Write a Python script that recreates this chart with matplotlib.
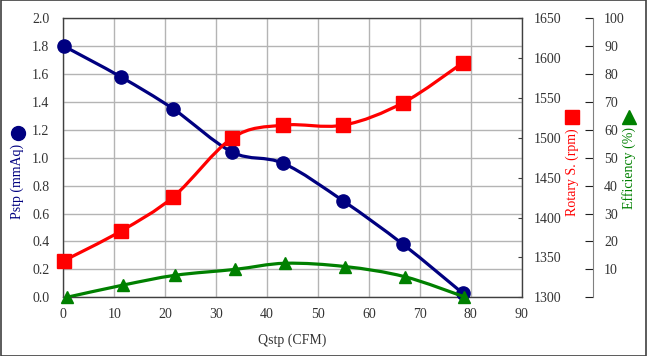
import numpy as np
import matplotlib
matplotlib.use('Agg')
import matplotlib.pyplot as plt
from matplotlib.path import Path
from matplotlib.patches import PathPatch, Rectangle
from matplotlib.lines import Line2D

plt.rcParams['font.family'] = ['Liberation Serif', 'DejaVu Serif']

# values
qstp = [0.15, 11.3, 21.6, 33.2, 43.2, 55.0, 66.7, 78.4]
pstp = [1.80, 1.58, 1.35, 1.04, 0.96, 0.69, 0.38, 0.03]
rpm = [1346, 1383, 1426, 1500, 1516, 1516, 1544, 1594]
qstp_eff = [0.7, 11.8, 22.0, 33.7, 43.6, 55.4, 67.0, 78.7]
eff = [0.0, 4.4, 7.9, 10.0, 12.2, 11.0, 7.4, 0.2]

x_ticks = list(range(0, 91, 10))
p_ticks = [i * 0.2 for i in range(11)]
rpm_ticks = list(range(1300, 1651, 50))
eff_ticks = list(range(0, 101, 10))

NAVY = '#000080'
RED = '#ff0000'
GREEN = '#008000'
FS = 10


def smooth_path(x, y):
    # excel style smoothed line, drawn as cubic bezier segments
    x = np.asarray(x, float)
    y = np.asarray(y, float)
    px = np.concatenate([[x[0]], x, [x[-1]]])
    py = np.concatenate([[y[0]], y, [y[-1]]])
    verts = [(x[0], y[0])]
    codes = [Path.MOVETO]
    for i in range(1, len(px) - 2):
        c1 = (px[i] + (px[i + 1] - px[i - 1]) / 6, py[i] + (py[i + 1] - py[i - 1]) / 6)
        c2 = (px[i + 1] - (px[i + 2] - px[i]) / 6, py[i + 1] - (py[i + 2] - py[i]) / 6)
        verts += [c1, c2, (px[i + 1], py[i + 1])]
        codes += [Path.CURVE4] * 3
    return Path(verts, codes)


def draw_series(ax, x, y, color, marker, ms):
    ax.add_patch(PathPatch(smooth_path(x, y), fill=False, edgecolor=color, lw=2.3, zorder=3))
    ax.plot(x, y, ls='none', marker=marker, ms=ms, color=color, mec=color, zorder=4, clip_on=False)


fig = plt.figure(figsize=(6.47, 3.56), dpi=100)
ax = fig.add_axes([0.0978, 0.1649, 0.7085, 0.7837])
ax2 = ax.twinx()
ax3 = ax.twinx()

label_color = '#333333'
for a in (ax, ax2, ax3):
    a.tick_params(labelsize=FS, colors=label_color)

ax.set_xlim(0, 90)
ax.set_ylim(0, 2.0)
ax.set_xticks(x_ticks)
ax.set_yticks(p_ticks)
ax.set_yticklabels([f'{v:.1f}' for v in p_ticks])
ax.grid(True, color='#b4b4b4', lw=1)
ax.set_axisbelow(True)
ax.tick_params(axis='y', length=0, pad=10)
ax.tick_params(axis='x', length=0, pad=7.5)
for s in ax.spines.values():
    s.set_color('#404040')
    s.set_linewidth(1)
ax.set_xlabel('Qstp (CFM)', fontsize=FS, color=label_color, labelpad=9)

ax2.set_ylim(1300, 1650)
ax2.set_yticks(rpm_ticks)
ax2.tick_params(axis='y', direction='in', length=3, pad=8.5, color='#404040')
for s in ax2.spines.values():
    s.set_visible(False)

ax3.set_ylim(0, 100)
ax3.set_yticks(eff_ticks)
ax3.set_yticklabels(['' if v == 0 else str(v) for v in eff_ticks])
ax3.spines['right'].set_position(('axes', 1.1555))
ax3.spines['right'].set_color('#808080')
for k in ('left', 'top', 'bottom'):
    ax3.spines[k].set_visible(False)
ax3.tick_params(axis='y', direction='in', length=6, pad=8, color='#202020')

draw_series(ax2, qstp, rpm, RED, 's', 9.5)
draw_series(ax3, qstp_eff, eff, GREEN, '^', 9)
draw_series(ax, qstp, pstp, NAVY, 'o', 9.5)
ax2.patch.set_visible(False)
ax3.patch.set_visible(False)
ax2.set_zorder(1)
ax3.set_zorder(2)
ax.set_zorder(0)

# axis titles with their marker symbols
fig.text(17.7 / 647, 1 - 181 / 356, 'Pstp (mmAq)', rotation=90, color=NAVY,
         fontsize=FS, ha='center', va='center')
fig.add_artist(Line2D([17.7 / 647], [1 - 132.7 / 356], marker='o', ms=10, color=NAVY, transform=fig.transFigure))
fig.text(572 / 647, 1 - 172 / 356, 'Rotary S. (rpm)', rotation=90, color=RED,
         fontsize=FS, ha='center', va='center')
fig.add_artist(Line2D([572 / 647], [1 - 117.3 / 356], marker='s', ms=10, color=RED, transform=fig.transFigure))
fig.text(629 / 647, 1 - 168 / 356, 'Efficiency (%)', rotation=90, color=GREEN,
         fontsize=FS, ha='center', va='center')
fig.add_artist(Line2D([629 / 647], [1 - 117.3 / 356], marker='^', ms=10, color=GREEN, transform=fig.transFigure))

fig.add_artist(Rectangle((0.0008, 0.0014), 0.9984, 0.9972, transform=fig.transFigure,
                         fill=False, edgecolor='#404040', lw=1.2))

fig.savefig('out.png', dpi=100)
